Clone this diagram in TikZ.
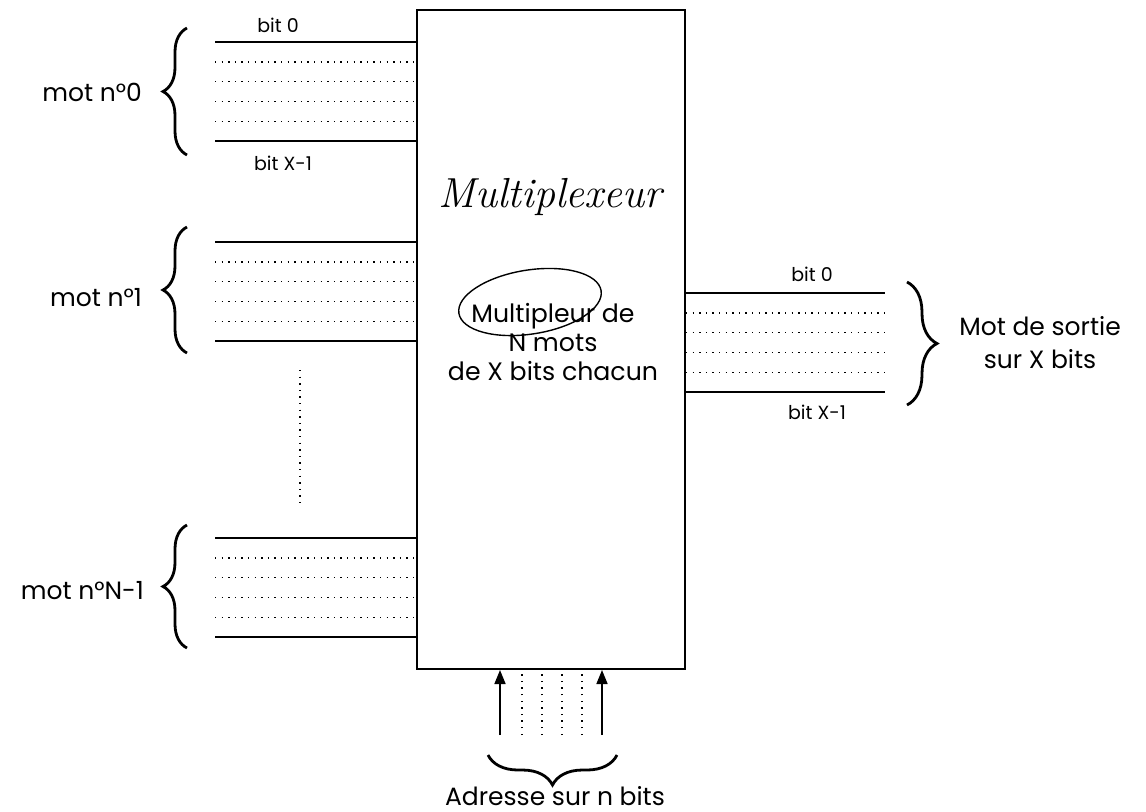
\documentclass[tikz,border=0pt]{standalone}
\usepackage{fontspec}
\newfontfamily\labelfont{Poppins}
\usetikzlibrary{arrows.meta,positioning,calc,decorations.pathreplacing}

\tikzset{
  bus/.style={line width=0.8pt},
  busdot/.style={line width=0.7pt, dash pattern=on 0.7pt off 2.6pt},
  wordbrace/.style={decorate, decoration={brace, amplitude=#1}, line width=1.4pt},
  lbl/.style={font=\labelfont\fontsize{12.5}{16.5}\selectfont},
  bitlbl/.style={font=\labelfont\fontsize{9.5}{11}\selectfont},
}

\begin{document}
\begin{tikzpicture}[x=0.5pt, y=-0.5pt, >=Stealth]
  \useasboundingbox (0,0) rectangle (1146,811);
  % the multiplexer block
  \node[draw, line width=1pt, minimum width=134pt, minimum height=329.5pt] (mux) at (551,339.5) {};
  \node[font=\itshape\fontsize{21}{24}\selectfont] (title) at (550,197) {Multiplexeur};
  \node[lbl, align=center, font=\labelfont\fontsize{12.6}{14.3}\selectfont] (desc) at (553,342) {Multipleur de\\N mots\\de X bits chacun};
  \draw[line width=0.7pt, rotate around={9:(530,302)}] (530,302) ellipse [x radius=72, y radius=32];

  % input words
  \foreach \top/\nm in {42/w0, 242/w1, 538/wn} {
    \coordinate (\nm a) at (215,\top);
    \draw[bus] (\nm a) -- (\nm a -| mux.west);
    \foreach \k in {1,...,4} {
      \coordinate (\nm d\k) at (215,\top+19.8*\k);
      \draw[busdot] (\nm d\k) -- (\nm d\k -| mux.west);
    }
    \coordinate (\nm b) at (215,\top+99);
    \draw[bus] (\nm b) -- (\nm b -| mux.west);
  }
  \node[bitlbl] (w0top) at (278,25) {bit 0};
  \node[bitlbl] (w0bot) at (283,163) {bit X-1};
  \draw[wordbrace=12pt] (187,155) -- (187,28);
  \draw[wordbrace=12pt] (187,353) -- (187,227);
  \draw[wordbrace=12pt] (187,648) -- (187,525);
  \node[lbl, anchor=east] (mot0) at (149,92) {mot n°0};
  \node[lbl, anchor=east] (mot1) at (149,298) {mot n°1};
  \node[lbl, anchor=east] (motn) at (151,591) {mot n°N-1};
  \draw[busdot] (300,370) -- (300,505);

  % output word
  \coordinate (oa) at (885,293);
  \draw[bus] (oa -| mux.east) -- (oa);
  \foreach \k in {1,...,4} {
    \coordinate (od\k) at (885,293+19.8*\k);
    \draw[busdot] (od\k -| mux.east) -- (od\k);
  }
  \coordinate (ob) at (885,392);
  \draw[bus] (ob -| mux.east) -- (ob);
  \node[bitlbl] (outtop) at (812,274) {bit 0};
  \node[bitlbl] (outbot) at (817,412) {bit X-1};
  \draw[wordbrace=15pt] (907,282) -- (907,405);
  \node[lbl, align=center] (out) at (1040,343) {Mot de sortie\\sur X bits};

  % address lines
  \foreach \x/\nm in {500/a0, 602/an} {
    \coordinate (\nm) at (\x,735);
    \draw[bus, -{Triangle[length=7pt,width=5.5pt]}] (\nm) -- (\nm |- mux.south);
  }
  \foreach \x in {522,542,562,582} {
    \coordinate (ad\x) at (\x,735);
    \draw[busdot] (ad\x) -- (ad\x |- mux.south);
  }
  \draw[wordbrace=15pt] (617,755) -- (488,755);
  \node[lbl, anchor=base] (addr) at (555,805) {Adresse sur n bits};
\end{tikzpicture}
\end{document}
